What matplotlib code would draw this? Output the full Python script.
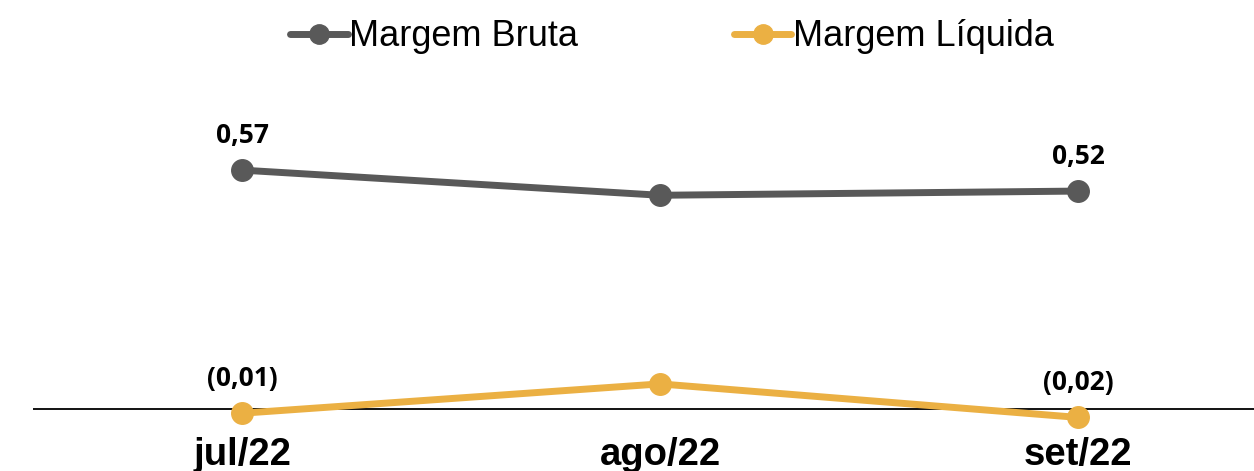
import matplotlib.pyplot as plt

# ######## # Data
meses = ["jul/22", "ago/22", "set/22"]
margem_bruta = [0.57, 0.51, 0.52]
margem_liquida = [-0.01, 0.06, -0.02]
rotulo_pontos = [0, 2]  # only first and last points carry a label

COR_BRUTA = "#595959"
COR_LIQUIDA = "#EBB043"


def fmt_br(v):
    s = f"{abs(v):.2f}".replace(".", ",")
    return f"({s})" if v < 0 else s


fig = plt.figure(figsize=(12.54, 4.71), dpi=100)
ax = fig.add_axes([33 / 1254, 41 / 471, 1 - 33 / 1254, 350 / 471])

x = list(range(len(meses)))

ax.plot(x, margem_bruta, color=COR_BRUTA, lw=5, marker="o", ms=15.5,
        solid_capstyle="round", label="Margem Bruta", zorder=3)
ax.plot(x, margem_liquida, color=COR_LIQUIDA, lw=5, marker="o", ms=15.5,
        solid_capstyle="round", label="Margem Líquida", zorder=3)

# ######## # Zero line
ax.axhline(0, color="black", lw=1.3, zorder=2)

# ######## # Point labels
for serie in (margem_bruta, margem_liquida):
    for i in rotulo_pontos:
        ax.annotate(fmt_br(serie[i]), (x[i], serie[i]),
                    xytext=(0, 25), textcoords="offset points",
                    ha="center", va="center", fontsize=19,
                    fontweight="bold", family="Open Sans", color="black")

ax.set_xlim(-0.5, 2.421)
ax.set_ylim(-0.05, 0.785)
ax.set_xticks(x)
ax.set_xticklabels(meses, fontsize=27.5, fontweight="bold", family="Liberation Sans")
ax.tick_params(axis="x", length=0, pad=5)
ax.set_yticks([])
for sp in ax.spines.values():
    sp.set_visible(False)

ax.legend(loc="center", bbox_to_anchor=(672 / 1254, 1 - 37 / 471),
          bbox_transform=fig.transFigure, ncol=2, frameon=False,
          prop={"family": "Liberation Sans", "size": 26},
          handlelength=1.6, handletextpad=0.05, columnspacing=4.3,
          markerscale=0.9)

fig.savefig("out.png", dpi=100)
plt.close(fig)
